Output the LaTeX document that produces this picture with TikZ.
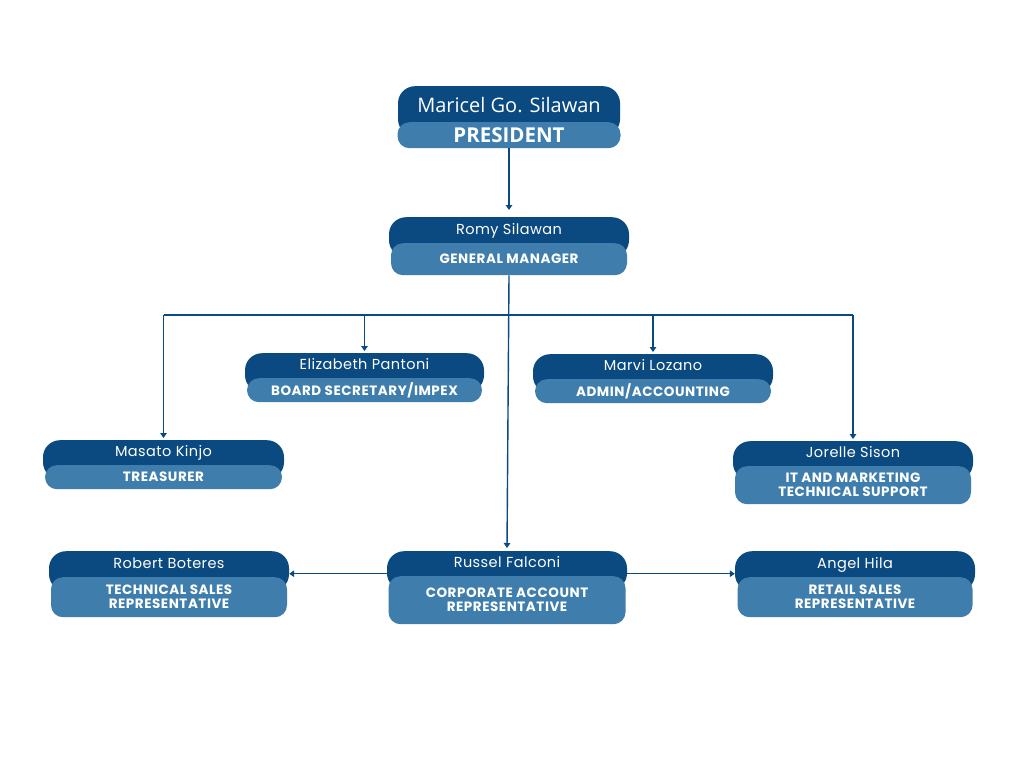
\documentclass[tikz,border=0pt]{standalone}
\usepackage{fontspec}
\setmainfont{Poppins}
\newfontfamily\rolefont{Poppins}[LetterSpace=4]
\newfontfamily\namefont{Poppins}[LetterSpace=3]
\newfontfamily\presfont{Open Sans}
\usetikzlibrary{arrows.meta}
\definecolor{darkblue}{HTML}{0A4A80}
\definecolor{lightblue}{HTML}{3F7EAC}
\tikzset{
  darkbox/.style={fill=darkblue, draw=none, rounded corners=17pt, inner sep=0pt, anchor=north},
  lightbox/.style={fill=lightblue, draw=none, rounded corners=12pt, inner sep=0pt, anchor=north,
    text=white, font=\rolefont\fontsize{13.5}{14}\selectfont\bfseries, align=center},
  nametext/.style={text=white, font=\namefont\fontsize{14.5}{16}\selectfont, inner sep=0pt, anchor=base},
  conn/.style={draw=darkblue, line width=1.4pt},
  arr/.style={conn, -{Triangle[length=5pt,width=6.5pt]}},
}
% \person{id}{cx}{darktop}{lighttop}{lightbottom}{darkwidth}{lightwidth}{name}{role}
\newcommand{\person}[9]{%
  \pgfmathsetmacro{\dh}{#4-#3+14}%
  \pgfmathsetmacro{\lh}{#5-#4}%
  \pgfmathsetmacro{\ny}{#4-8.5}%
  \node[darkbox, minimum width=#6pt, minimum height=\dh pt] (#1D) at (#2,#3) {};
  \node[lightbox, minimum width=#7pt, minimum height=\lh pt] (#1L) at (#2,#4) {#9};
  \node[nametext] (#1N) at (#2,\ny) {#8};
}
\begin{document}
\begin{tikzpicture}[x=1pt,y=-1pt]
\useasboundingbox (0,0) rectangle (1024,768);
\fill[white] (0,0) rectangle (1024,768);

% President
\node[darkbox, minimum width=222pt, minimum height=50pt] (presD) at (509,86) {};
\node[lightbox, minimum width=223pt, minimum height=26pt, font=\presfont\fontsize{20.5}{22}\selectfont\bfseries] (presL) at (509,122) {PRESIDENT};
\node[nametext, anchor=center, font=\presfont\fontsize{20}{22}\selectfont] (presN) at (509,105.5) {Maricel Go. Silawan};

\person{gm}{509}{217}{243}{275}{240}{236}{Romy Silawan}{GENERAL MANAGER}
\person{eliz}{364.5}{353}{378}{402}{239}{235}{Elizabeth Pantoni}{BOARD SECRETARY/IMPEX}
\person{marvi}{653}{354}{379}{403}{240}{236}{Marvi Lozano}{ADMIN/ACCOUNTING}
\person{masato}{163.5}{440}{465}{489}{241}{237}{Masato Kinjo}{TREASURER}
\person{jorelle}{853}{441}{466}{504}{240}{236}{Jorelle Sison}{IT AND MARKETING\\TECHNICAL SUPPORT}
\person{russel}{507}{551}{576}{624}{240}{237}{Russel Falconi}{CORPORATE ACCOUNT\\REPRESENTATIVE}
\person{robert}{169}{551}{577}{617}{240}{236}{Robert Boteres}{TECHNICAL SALES\\REPRESENTATIVE}
\person{angel}{855}{551}{577}{617}{240}{235}{Angel Hila}{RETAIL SALES\\REPRESENTATIVE}

% connectors
\draw[arr] (presL.south) -- ([yshift=7pt]gmD.north);
\draw[arr] (gmL.south) -- ([yshift=3pt]russelD.north);
\coordinate (bus) at (509,315);
\draw[conn] (masatoD.north |- bus) -- (jorelleD.north |- bus);
\draw[arr] (masatoD.north |- bus) -- ([yshift=2pt]masatoD.north);
\draw[arr] (elizD.north |- bus) -- ([yshift=2pt]elizD.north);
\draw[arr] (marviD.north |- bus) -- ([yshift=2pt]marviD.north);
\draw[arr] (jorelleD.north |- bus) -- ([yshift=2pt]jorelleD.north);
\coordinate (rl) at ([yshift=-3pt]russelD.west);
\coordinate (rr) at ([yshift=-3pt]russelD.east);
\draw[arr] (rl) -- (robertD.east |- rl);
\draw[arr] (rr) -- (angelD.west |- rr);
\end{tikzpicture}
\end{document}
